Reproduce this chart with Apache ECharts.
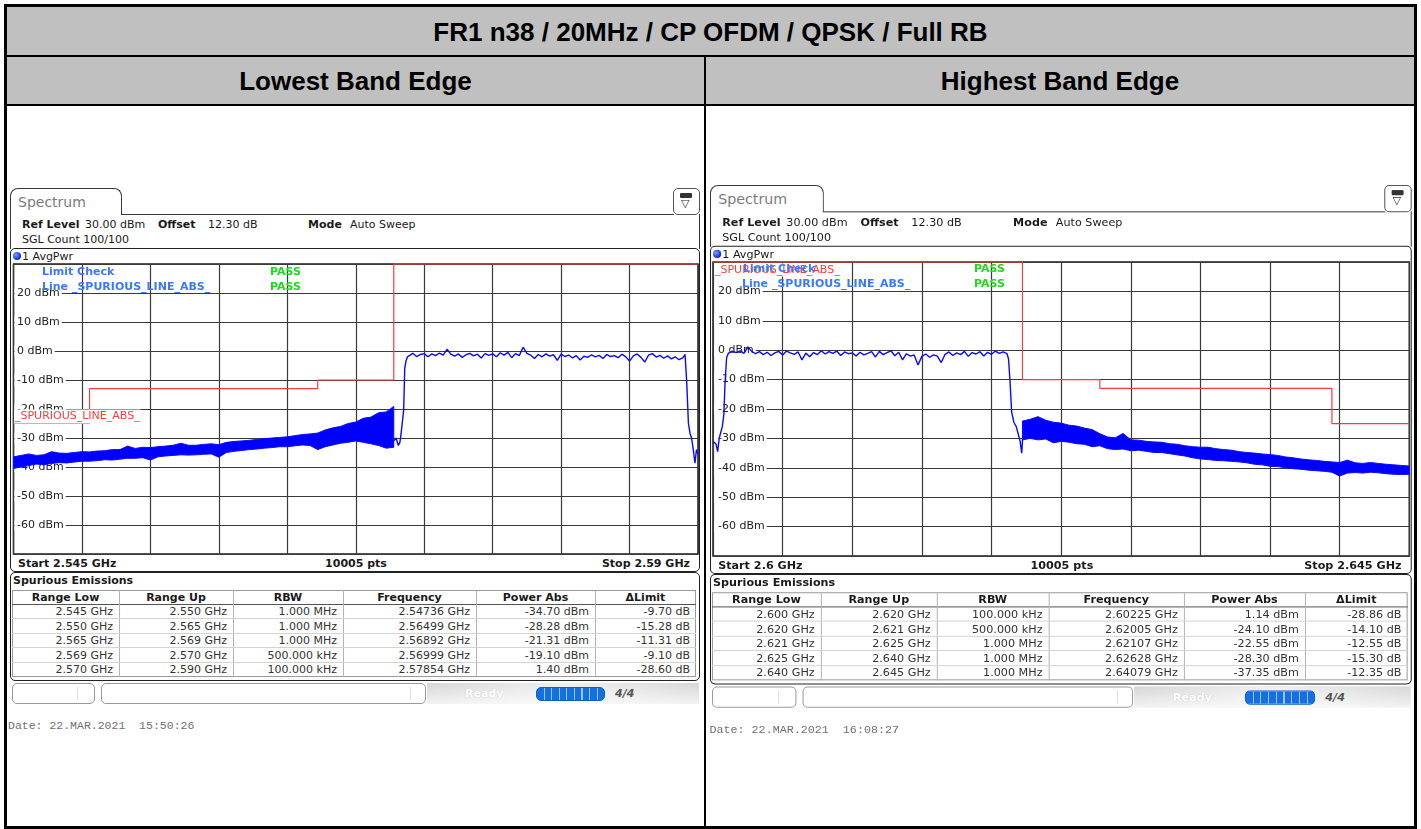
<!DOCTYPE html>
<html>
<head>
<meta charset="utf-8">
<script src="https://cdn.jsdelivr.net/npm/echarts@6/dist/echarts.min.js"></script>
<style>
html,body{margin:0;padding:0;background:#fff;}
body{width:1421px;height:829px;overflow:hidden;position:relative;font-family:'DejaVu Sans',sans-serif;}
.abs{position:absolute;white-space:nowrap;}
#outer{position:absolute;left:4px;top:4px;width:1413px;height:825px;border:3px solid #000;box-sizing:border-box;}
.hdr{position:absolute;background:#c0c0c0;display:flex;align-items:center;justify-content:center;font-family:'Liberation Sans',Arial,sans-serif;font-weight:bold;font-size:26px;color:#000;box-sizing:border-box;padding-top:2px;}
.blk{position:absolute;background:#000;}
.panel{position:absolute;width:690px;height:550px;transform-origin:0 0;font-size:11px;color:#1a1a1a;line-height:13px;}
.tab{left:0;top:0;width:112px;height:27px;border:1.5px solid #3a3a3a;border-bottom:none;border-radius:8px 8px 0 0;box-sizing:border-box;background:#fff;}
.tabtxt{left:7px;top:5px;font-size:14px;line-height:16px;color:#7c7c7c;}
.tabline{left:111px;top:25.5px;width:553px;height:0;border-top:1.5px solid #3a3a3a;}
.iconbox{left:663px;top:0;width:27px;height:27px;border:1.5px solid #555;border-radius:5px;box-sizing:border-box;background:#fff;}
.side{top:26px;height:35px;width:0;border-left:1.5px solid #3a3a3a;}
.frame{left:0;width:690px;border:1.5px solid #222;border-radius:5px;box-sizing:border-box;}
.sbox{top:495px;height:21px;border:1px solid #9a9a9a;border-radius:5px;box-sizing:border-box;background:#fff;}
#chart{position:absolute;left:0;top:0;width:1421px;height:829px;z-index:5;pointer-events:none;}
</style>
</head>
<body>
<div id="outer"></div>
<div class="hdr" id="title" style="left:7px;top:7px;width:1407px;height:48px;"></div>
<div class="blk" style="left:7px;top:55px;width:1407px;height:2px;"></div>
<div class="hdr" id="colL" style="left:7px;top:57px;width:697px;height:47px;"></div>
<div class="hdr" id="colR" style="left:706px;top:57px;width:708px;height:47px;"></div>
<div class="blk" style="left:7px;top:104px;width:1407px;height:2px;"></div>
<div class="blk" style="left:704px;top:57px;width:2px;height:770px;"></div>

<div class="panel" id="panelL" style="left:10px;top:188px;"></div>
<div class="panel" id="panelR" style="left:709.5px;top:185px;transform:scale(1.017,1.013);"></div>

<div id="chart"></div>

<script>
// ---------------- texts ----------------
const titleText = 'FR1 n38 / 20MHz / CP OFDM / QPSK / Full RB';
const columnTitles = ['Lowest Band Edge', 'Highest Band Edge'];
const tableHeaders = ['Range Low', 'Range Up', 'RBW', 'Frequency', 'Power Abs', '\u0394Limit'];

// ---------------- left (lowest band edge) ----------------
const leftStartLabel = 'Start 2.545 GHz';
const leftStopLabel = 'Stop 2.59 GHz';
const leftDate = 'Date: 22.MAR.2021\u00a0\u00a015:50:26';
const leftRangeLow = ['2.545 GHz', '2.550 GHz', '2.565 GHz', '2.569 GHz', '2.570 GHz'];
const leftRangeUp  = ['2.550 GHz', '2.565 GHz', '2.569 GHz', '2.570 GHz', '2.590 GHz'];
const leftRBW      = ['1.000 MHz', '1.000 MHz', '1.000 MHz', '500.000 kHz', '100.000 kHz'];
const leftFreq     = ['2.54736 GHz', '2.56499 GHz', '2.56892 GHz', '2.56999 GHz', '2.57854 GHz'];
const leftPower    = ['-34.70 dBm', '-28.28 dBm', '-21.31 dBm', '-19.10 dBm', '1.40 dBm'];
const leftDelta    = ['-9.70 dB', '-15.28 dB', '-11.31 dB', '-9.10 dB', '-28.60 dB'];

const leftSpanGHz = [2.545, 2.590];
const leftLimitEdges  = [2.545, 2.550, 2.565, 2.570, 2.590];
const leftLimitLevels = [-25, -13, -10, 30];

// noise band (upper / lower envelope), 0.5 MHz sweep spacing from 2.545 GHz
const leftBandStartGHz = 2.545;
const leftBandHi = [-36.5,-36.0,-35.5,-36.0,-35.8,-34.7,-35.2,-35.3,-35.0,-34.7,
                    -34.8,-34.5,-34.4,-34.0,-34.0,-32.8,-33.6,-33.2,-33.3,-33.0,
                    -32.8,-32.5,-31.8,-32.5,-32.5,-32.2,-32.0,-32.3,-31.5,-31.2,
                    -31.0,-30.8,-30.5,-30.2,-30.0,-29.8,-29.6,-29.2,-28.8,-28.6,
                    -28.3,-27.2,-26.5,-26.0,-25.0,-24.5,-23.2,-22.8,-21.3,-21.0,
                    -19.1];
const leftBandLo = [-40.5,-40.0,-39.5,-39.0,-39.2,-38.8,-38.5,-38.6,-38.3,-38.0,
                    -38.0,-37.8,-37.5,-37.6,-37.3,-37.0,-37.0,-36.8,-37.6,-36.5,
                    -36.2,-36.0,-35.8,-35.9,-35.8,-35.6,-35.5,-36.6,-35.0,-34.6,
                    -34.3,-34.0,-33.8,-33.5,-33.3,-33.0,-33.0,-32.7,-32.4,-32.6,
                    -34.0,-33.0,-32.4,-31.8,-31.5,-31.0,-31.5,-32.0,-32.6,-33.5,
                    -33.2];
// channel rising edge [GHz, dBm]
const leftRiseEdge = [[2.5700,-31.0],[2.57015,-30.0],[2.5703,-32.6],[2.5704,-31.5],[2.57045,-29.8],
                      [2.57058,-23.8],[2.57065,-20.3],[2.57072,-6.0],[2.5708,-3.5],[2.5709,-2.0]];
// in-band trace, 0.25 MHz spacing from 2.571 GHz
const leftInbandStartGHz = 2.571;
const leftInband = [-1.5,-0.8,-1.9,-1.2,-0.9,-2.0,-1.0,-1.6,-0.7,-1.4,
                     0.6,-1.1,-1.8,-1.0,-2.2,-1.3,-0.8,-1.7,-1.1,-2.4,
                    -0.9,-1.5,-1.0,-2.0,-0.6,-1.4,-0.5,-2.3,-0.9,-1.6,
                     1.3,-0.8,-1.4,-2.6,-1.2,-2.0,-1.0,-1.8,-1.3,-3.2,
                    -1.1,-1.9,-1.4,-2.4,-1.6,-3.1,-1.8,-2.2,-1.3,-2.0,
                    -1.5,-2.6,-1.2,-1.9,-1.6,-2.3,-1.1,-2.0,-3.5,-1.7,
                    -1.0,-2.2,-3.8,-1.4,-0.9,-2.1,-1.5,-2.5,-1.7,-2.7,
                    -2.0,-3.0,-2.4];
const leftFallEdge = [[2.58915,-1.2],[2.58926,-11.0],[2.58937,-25.0],[2.58948,-28.5],[2.58958,-30.0],
                      [2.58969,-34.0],[2.5898,-38.7],[2.5899,-34.0],[2.590,-35.5]];

// ---------------- right (highest band edge) ----------------
const rightStartLabel = 'Start 2.6 GHz';
const rightStopLabel = 'Stop 2.645 GHz';
const rightDate = 'Date: 22.MAR.2021\u00a0\u00a016:08:27';
const rightRangeLow = ['2.600 GHz', '2.620 GHz', '2.621 GHz', '2.625 GHz', '2.640 GHz'];
const rightRangeUp  = ['2.620 GHz', '2.621 GHz', '2.625 GHz', '2.640 GHz', '2.645 GHz'];
const rightRBW      = ['100.000 kHz', '500.000 kHz', '1.000 MHz', '1.000 MHz', '1.000 MHz'];
const rightFreq     = ['2.60225 GHz', '2.62005 GHz', '2.62107 GHz', '2.62628 GHz', '2.64079 GHz'];
const rightPower    = ['1.14 dBm', '-24.10 dBm', '-22.55 dBm', '-28.30 dBm', '-37.35 dBm'];
const rightDelta    = ['-28.86 dB', '-14.10 dB', '-12.55 dB', '-15.30 dB', '-12.35 dB'];

const rightSpanGHz = [2.600, 2.645];
const rightLimitEdges  = [2.600, 2.620, 2.625, 2.640, 2.645];
const rightLimitLevels = [30, -10, -13, -25];

const rightRiseEdge = [[2.6000,-31.0],[2.6001,-30.5],[2.6002,-32.0],[2.6003,-34.5],[2.6004,-30.0],
                       [2.6005,-28.0],[2.6006,-26.0],[2.6007,-22.0],[2.60078,-11.0],[2.60088,-2.5]];
const rightInbandStartGHz = 2.601;
const rightInband = [-1.0,-0.3,-0.8,-0.2,-1.1, 1.1,-0.4,-1.2,-0.5,-1.5,
                     -0.7,-1.8,-0.9,-0.4,-1.6,-0.3,-0.9,-1.4,-0.6,-3.3,
                     -1.0,-2.2,-0.8,-1.5,-0.2,-1.3,-0.5,-1.1,-0.3,-1.8,
                     -0.6,-1.2,-0.9,-2.0,-0.7,-1.6,-1.1,-0.5,-2.3,-0.4,
                     -1.5,-0.8,-0.2,-1.9,-0.7,-3.3,-1.2,-2.0,-1.6,-5.0,
                     -2.1,-1.3,-2.4,-1.6,-2.0,-4.2,-1.4,-0.6,-1.8,-0.9,
                     -1.5,-0.4,-2.1,-0.8,-1.3,-0.5,-2.0,-0.7,-1.4,-0.3,
                     -1.1,-0.6,-1.2];
const rightFallEdge = [[2.6191,-3.0],[2.6192,-11.0],[2.6193,-21.0],[2.61945,-24.6],[2.6196,-26.0],
                       [2.6197,-28.0],[2.61985,-31.0],[2.61995,-35.0],[2.62006,-26.0]];
const rightBandStartGHz = 2.620;
const rightBandHi = [-24.1,-23.5,-22.6,-23.8,-24.5,-24.8,-25.5,-25.8,-26.5,-27.0,
                     -28.4,-29.5,-29.8,-28.3,-30.5,-30.6,-31.0,-31.2,-31.3,-31.8,
                     -32.0,-32.5,-32.8,-33.0,-33.0,-33.5,-33.8,-34.0,-34.5,-34.8,
                     -35.0,-35.3,-35.5,-35.8,-36.3,-36.6,-37.0,-37.3,-37.5,-37.8,
                     -38.0,-38.2,-37.4,-38.3,-38.5,-38.2,-38.5,-38.8,-39.0,-39.2,
                     -39.4];
const rightBandLo = [-30.5,-30.0,-30.5,-30.2,-31.5,-31.0,-31.3,-31.8,-32.0,-32.8,
                     -32.5,-33.5,-33.8,-33.6,-34.2,-34.0,-34.4,-34.8,-34.8,-35.2,
                     -35.6,-36.0,-36.6,-37.0,-37.2,-37.5,-37.6,-37.8,-38.0,-38.3,
                     -38.8,-39.0,-39.5,-39.6,-40.0,-40.3,-40.5,-40.8,-41.0,-41.2,
                     -41.5,-42.8,-41.8,-41.6,-41.8,-41.5,-41.7,-42.0,-42.2,-42.3,
                     -42.2];

const bandStepMHz = 0.5;
const inbandStepMHz = 0.25;
const yRange = [-70, 30];

// ---------------- HTML frame ----------------
document.getElementById('title').textContent = titleText;
document.getElementById('colL').textContent = columnTitles[0];
document.getElementById('colR').textContent = columnTitles[1];

function t(x, y, s, extra) {
  return '<div class="abs" style="left:' + x + 'px;top:' + y + 'px;' + (extra || '') + '">' + s + '</div>';
}
function buildPanel(id, cfg) {
  const cols = [2, 109, 223, 333, 466, 585, 686];
  const colData = [cfg.low, cfg.up, cfg.rbw, cfg.freq, cfg.power, cfg.delta];
  let h = '';
  h += '<div class="abs tab"><div class="abs tabtxt">Spectrum</div></div>';
  h += '<div class="abs tabline"></div>';
  h += '<div class="abs iconbox"><div class="abs" style="left:6px;top:4px;width:12px;height:5px;background:#333;border-radius:1px;"></div>' +
       '<div class="abs" style="left:7px;top:9px;font-size:11px;line-height:11px;color:#333;">\u25BD</div></div>';
  h += '<div class="abs side" style="left:0"></div><div class="abs side" style="left:688.5px"></div>';
  h += t(12, 30, 'Ref Level', 'font-weight:bold') + t(75, 30, '30.00 dBm') +
       t(148, 30, 'Offset', 'font-weight:bold') + t(198, 30, '12.30 dB') +
       t(298, 30, 'Mode', 'font-weight:bold') + t(340, 30, 'Auto Sweep');
  h += t(12, 45, 'SGL Count 100/100');
  h += '<div class="abs frame" style="top:60px;height:324px;"></div>';
  h += '<div class="abs" style="left:3px;top:64px;width:8px;height:8px;border-radius:50%;background:radial-gradient(circle at 35% 35%,#7d9bff,#0a2bd8 70%);"></div>';
  h += t(12, 61.5, '1 AvgPwr');
  h += t(8, 368.5, cfg.start, 'font-weight:bold');
  h += t(346, 368.5, '10005 pts', 'font-weight:bold;transform:translateX(-50%)');
  h += '<div class="abs" style="right:10px;top:368.5px;font-weight:bold;">' + cfg.stop + '</div>';
  // spurious table
  h += '<div class="abs frame" style="top:384px;height:109px;"></div>';
  h += t(3, 385.5, 'Spurious Emissions', 'font-weight:bold');
  h += '<div class="abs" style="left:2px;top:402px;width:684px;height:87px;border:1px solid #9a9a9a;box-sizing:border-box;"></div>';
  h += '<div class="abs" style="left:2px;top:415.5px;width:684px;height:1px;background:#555;"></div>';
  for (let c = 1; c < 6; c++) {
    h += '<div class="abs" style="left:' + cols[c] + 'px;top:402px;width:1px;height:87px;background:#b4b4b4;"></div>';
  }
  for (let c = 0; c < 6; c++) {
    h += t(cols[c], 402.5, tableHeaders[c], 'font-weight:bold;text-align:center;width:' + (cols[c + 1] - cols[c]) + 'px;');
  }
  for (let r = 0; r < 5; r++) {
    const top = 416 + r * 14.6;
    if (r < 4) h += '<div class="abs" style="left:2px;top:' + (top + 14.1) + 'px;width:684px;height:1px;background:#d4d4d4;"></div>';
    for (let c = 0; c < 6; c++) {
      h += t(cols[c], top + 1, colData[c][r], 'color:#333;text-align:right;width:' + (cols[c + 1] - cols[c] - 6) + 'px;');
    }
  }
  // status bar
  h += '<div class="abs sbox" style="left:2px;width:83px;"><div class="abs" style="left:64px;top:3px;width:1px;height:13px;background:#ddd;"></div></div>';
  h += '<div class="abs sbox" style="left:91px;width:325px;"><div class="abs" style="left:308px;top:3px;width:1px;height:13px;background:#ddd;"></div></div>';
  h += '<div class="abs" style="left:417px;top:495px;width:272px;height:21px;background:linear-gradient(to bottom,#d6d6d6,#f3f3f3);"></div>';
  h += '<div class="abs" style="left:420px;top:495px;width:270px;height:21px;background:linear-gradient(to right,rgba(255,255,255,0),rgba(255,255,255,0.6) 50%,rgba(255,255,255,0));"></div>';
  h += t(455, 499, 'Ready', 'color:#fff;font-weight:bold;text-shadow:0 0 1px #bbb;');
  h += '<div class="abs" style="left:526px;top:499px;width:69px;height:14px;border-radius:5px;background:repeating-linear-gradient(to right,#1470e0 0px,#1470e0 6.5px,#9cc4f4 6.5px,#9cc4f4 7.6px);border:1px solid #0d5fc4;box-sizing:border-box;"></div>';
  h += t(605, 499, '4/4', 'color:#555;font-weight:bold;font-style:italic;font-size:11px;');
  h += t(cfg.dateX, 531, cfg.date, 'font-family:\'Liberation Mono\',monospace;font-size:11.5px;color:#707070;');
  document.getElementById(id).innerHTML = h;
}
buildPanel('panelL', {start: leftStartLabel, stop: leftStopLabel, date: leftDate, dateX: -2,
  low: leftRangeLow, up: leftRangeUp, rbw: leftRBW, freq: leftFreq, power: leftPower, delta: leftDelta});
buildPanel('panelR', {start: rightStartLabel, stop: rightStopLabel, date: rightDate, dateX: -0.5,
  low: rightRangeLow, up: rightRangeUp, rbw: rightRBW, freq: rightFreq, power: rightPower, delta: rightDelta});

// ---------------- ECharts ----------------
function stepPoints(edges, levels) {
  const pts = [];
  for (let i = 0; i < levels.length; i++) {
    pts.push([edges[i], levels[i]]);
    pts.push([edges[i + 1], levels[i]]);
  }
  return pts;
}
function sweep(startGHz, stepMHz, values) {
  return values.map((v, i) => [startGHz + i * stepMHz / 1000, v]);
}
function bandSeries(xIdx, yIdx, startGHz, hi, lo) {
  const data = hi.map((v, i) => [startGHz + i * bandStepMHz / 1000, v, lo[i]]);
  return {
    type: 'custom', xAxisIndex: xIdx, yAxisIndex: yIdx, silent: true, z: 4,
    data: data, encode: {x: 0, y: [1, 2]},
    renderItem: function (params, api) {
      if (params.dataIndex !== 0) return null;
      const pts = [];
      for (let i = 0; i < data.length; i++) pts.push(api.coord([data[i][0], data[i][1]]));
      for (let i = data.length - 1; i >= 0; i--) pts.push(api.coord([data[i][0], data[i][2]]));
      return {type: 'polygon', shape: {points: pts}, style: {fill: '#0000ff', stroke: '#0a0aff', lineWidth: 1}};
    }
  };
}
const FONT = '"DejaVu Sans", sans-serif';
function divAxis(g) {
  return {gridIndex: g, type: 'value', min: 0, max: 10, interval: 1,
    axisLine: {show: false}, axisTick: {show: false}, axisLabel: {show: false},
    splitLine: {show: true, lineStyle: {color: '#3a3a3a', width: 1.2}}};
}
function freqAxis(g, span) {
  return {gridIndex: g, type: 'value', min: span[0], max: span[1], show: false};
}
function levelAxis(g, padLeft) {
  return {gridIndex: g, type: 'value', min: yRange[0], max: yRange[1], interval: 10,
    axisLine: {show: false}, axisTick: {show: false},
    splitLine: {show: true, lineStyle: {color: '#3a3a3a', width: 1.2}},
    axisLabel: {inside: true, margin: 1, color: '#222', fontFamily: FONT, fontSize: 11,
      backgroundColor: '#fff', padding: [0, 2, 0, padLeft],
      formatter: v => (v === yRange[0] || v === yRange[1]) ? '' : v + ' dBm'}};
}
function lineSeries(xIdx, yIdx, data, color, width, z) {
  return {type: 'line', xAxisIndex: xIdx, yAxisIndex: yIdx, data: data, showSymbol: false, symbol: 'none',
    lineStyle: {color: color, width: width}, clip: false, silent: true, z: z, animation: false};
}
function txt(x, y, s, fill, bold, extra) {
  return Object.assign({type: 'text', x: x, y: y, z: 100, silent: true,
    style: {text: s, fill: fill, font: (bold ? 'bold ' : '') + '11px ' + FONT, verticalAlign: 'middle'}}, extra || {});
}
const BLUE_T = '#3a78ff', GREEN_T = '#1fd81f', RED_T = '#ff3c3c';

const chart = echarts.init(document.getElementById('chart'), null, {renderer: 'canvas', width: 1421, height: 829});
chart.setOption({
  animation: false,
  grid: [
    {left: 13.5, top: 264, width: 684.5, height: 290, show: true, borderColor: '#1e1e1e', borderWidth: 1.5, backgroundColor: 'transparent'},
    {left: 713, top: 262, width: 696.3, height: 294, show: true, borderColor: '#1e1e1e', borderWidth: 1.5, backgroundColor: 'transparent'}
  ],
  xAxis: [divAxis(0), freqAxis(0, leftSpanGHz), divAxis(1), freqAxis(1, rightSpanGHz)],
  yAxis: [levelAxis(0, 2.5), levelAxis(1, 4)],
  series: [
    lineSeries(1, 0, stepPoints(leftLimitEdges, leftLimitLevels), '#ff3c3c', 1.2, 3),
    bandSeries(1, 0, leftBandStartGHz, leftBandHi, leftBandLo),
    lineSeries(1, 0, leftRiseEdge.concat(sweep(leftInbandStartGHz, inbandStepMHz, leftInband), leftFallEdge), '#0a0aff', 1.4, 5),
    lineSeries(3, 1, stepPoints(rightLimitEdges, rightLimitLevels), '#ff3c3c', 1.2, 3),
    bandSeries(3, 1, rightBandStartGHz, rightBandHi, rightBandLo),
    lineSeries(3, 1, rightRiseEdge.concat(sweep(rightInbandStartGHz, inbandStepMHz, rightInband), rightFallEdge), '#0a0aff', 1.4, 5)
  ],
  graphic: [
    txt(14, 416.5, '_SPURIOUS_LINE_ABS_', RED_T, false, {z: 90, style: {text: '_SPURIOUS_LINE_ABS_', fill: RED_T, font: '11px ' + FONT, verticalAlign: 'middle', backgroundColor: '#fff', padding: [2, 1, 1, 1]}}),
    txt(42, 272, 'Limit Check', BLUE_T, true),
    txt(270, 272, 'PASS', GREEN_T, true),
    txt(42, 287, 'Line _SPURIOUS_LINE_ABS_', BLUE_T, true),
    txt(270, 287, 'PASS', GREEN_T, true),
    txt(714, 270, '_SPURIOUS_LINE_ABS_', RED_T, false, {z: 90, style: {text: '_SPURIOUS_LINE_ABS_', fill: RED_T, font: '11px ' + FONT, verticalAlign: 'middle', backgroundColor: '#fff', padding: [1, 1, 1, 1]}}),
    txt(743, 269, 'Limit Check', BLUE_T, true),
    txt(974, 269, 'PASS', GREEN_T, true),
    txt(742, 284, 'Line _SPURIOUS_LINE_ABS_', BLUE_T, true),
    txt(974, 284, 'PASS', GREEN_T, true)
  ]
});
</script>
</body>
</html>
